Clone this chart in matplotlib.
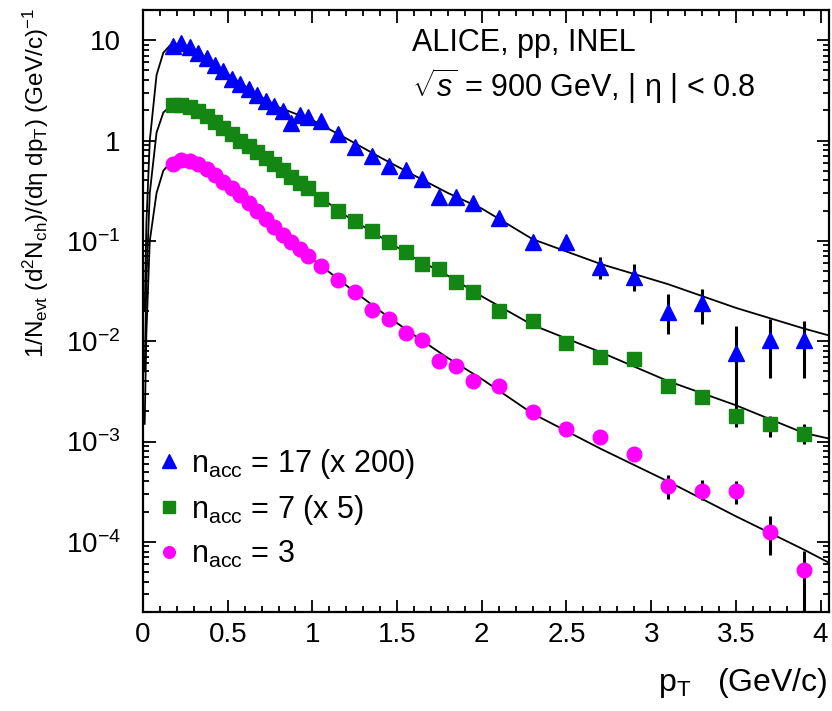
import matplotlib
matplotlib.use('Agg')
import matplotlib.pyplot as plt
from matplotlib.ticker import FixedLocator, NullFormatter, LogLocator

plt.rcParams['font.family'] = ['Liberation Sans', 'DejaVu Sans']
plt.rcParams['mathtext.fontset'] = 'custom'
plt.rcParams['mathtext.rm'] = 'Liberation Sans'
plt.rcParams['mathtext.it'] = 'Liberation Sans:italic'

# bin centres (GeV/c)
pt = [0.175, 0.225, 0.275, 0.325, 0.375, 0.425, 0.475, 0.525, 0.575, 0.625,
      0.675, 0.725, 0.775, 0.825, 0.875, 0.925, 0.975,
      1.05, 1.15, 1.25, 1.35, 1.45, 1.55, 1.65, 1.75, 1.85, 1.95,
      2.1, 2.3, 2.5, 2.7, 2.9, 3.1, 3.3, 3.5, 3.7, 3.9]

# n_acc = 17, scaled x 200
y17 = [8.8, 9.3, 8.5, 7.5, 6.7, 5.7, 4.9, 4.15, 3.7, 3.3,
       2.85, 2.5, 2.2, 1.95, 1.5, 1.8, 1.7,
       1.56, 1.16, 0.86, 0.70, 0.556, 0.507, 0.413, 0.273, 0.273, 0.24,
       0.17, 0.098, 0.098, 0.055, 0.044, 0.0195, 0.024, 0.0077, 0.0102, 0.0102]
# n_acc = 7, scaled x 5
y7 = [2.24, 2.24, 2.14, 1.95, 1.74, 1.52, 1.32, 1.15, 1.0, 0.88,
      0.76, 0.67, 0.58, 0.51, 0.43, 0.38, 0.335,
      0.262, 0.198, 0.158, 0.125, 0.098, 0.078, 0.059, 0.053, 0.039, 0.031,
      0.020, 0.0158, 0.0095, 0.0069, 0.0066, 0.0036, 0.0028, 0.0018, 0.0015, 0.0012]
# n_acc = 3
y3 = [0.58, 0.64, 0.62, 0.58, 0.52, 0.45, 0.39, 0.336, 0.286, 0.238,
      0.198, 0.165, 0.138, 0.115, 0.098, 0.083, 0.071,
      0.0567, 0.0412, 0.031, 0.0203, 0.0166, 0.012, 0.0102, 0.0063, 0.0057, 0.0040,
      0.0036, 0.00195, 0.00132, 0.0011, 0.00075, 0.00036, 0.00032, 0.00032, 0.000126, 5.3e-5]

# visible error bars (low / high edge)
err17_pt = [2.3, 2.7, 2.9, 3.1, 3.3, 3.5, 3.7, 3.9]
err17_lo = [0.088, 0.042, 0.032, 0.0118, 0.015, 0.0022, 0.0043, 0.0043]
err17_hi = [0.108, 0.069, 0.059, 0.0297, 0.033, 0.0141, 0.0166, 0.016]
err7_pt = [3.3, 3.5, 3.7, 3.9]
err7_lo = [0.0026, 0.0014, 0.0011, 0.00095]
err7_hi = [0.0030, 0.0023, 0.0018, 0.0015]
err3_pt = [3.1, 3.3, 3.5, 3.7, 3.9]
err3_lo = [0.00027, 0.00026, 0.00024, 7.4e-5, 1e-6]
err3_hi = [0.00046, 0.00041, 0.00040, 1.8e-4, 8.1e-5]

# fit curves
fit_pt = [0.01, 0.02, 0.04, 0.08, 0.12, 0.16, 0.2, 0.25, 0.3, 0.4, 0.5, 0.6, 0.7, 0.8, 0.9, 1.0,
          1.2, 1.4, 1.6, 1.8, 2.0, 2.3, 2.7, 3.1, 3.5, 3.9, 4.05]
fit17 = [0.02, 0.15, 1.0, 4.5, 7.5, 8.9, 9.2, 8.8, 8.1, 6.2, 4.6, 3.5, 2.7, 2.15, 1.85, 1.6,
         1.05, 0.68, 0.45, 0.30, 0.21, 0.104, 0.059, 0.037, 0.0215, 0.0134, 0.0114]
fit7 = [0.005, 0.04, 0.3, 1.2, 1.9, 2.2, 2.3, 2.2, 2.05, 1.62, 1.22, 0.94, 0.72, 0.55, 0.405, 0.31,
        0.177, 0.11, 0.068, 0.045, 0.028, 0.0145, 0.0078, 0.0040, 0.0023, 0.00122, 0.00107]
fit3 = [0.0015, 0.012, 0.1, 0.3, 0.5, 0.6, 0.64, 0.63, 0.6, 0.48, 0.36, 0.26, 0.18, 0.126, 0.09, 0.066,
        0.036, 0.020, 0.0115, 0.0068, 0.0042, 0.0019, 0.00085, 0.0004, 0.00018, 8.4e-5, 6.2e-5]

labels = [r'n$_{\rm acc}$ = 17 (x 200)', r'n$_{\rm acc}$ = 7 (x 5)', r'n$_{\rm acc}$ = 3']
colors = ['#0000ff', '#138613', '#ff00ff']

fig = plt.figure(figsize=(8.32, 7.11), dpi=100)
ax = fig.add_axes([143 / 832, 99 / 711, 686 / 832, 602 / 711])
ax.set_yscale('log')

for fy in (fit17, fit7, fit3):
    ax.plot(fit_pt, fy, color='black', lw=1.3, zorder=2)

for ex, lo, hi in ((err17_pt, err17_lo, err17_hi), (err7_pt, err7_lo, err7_hi),
                   (err3_pt, err3_lo, err3_hi)):
    ax.vlines(ex, lo, hi, color='black', lw=2.2, zorder=3)

h1, = ax.plot(pt, y17, '^', color=colors[0], ms=12, mec=colors[0], zorder=4)
h2, = ax.plot(pt, y7, 's', color=colors[1], ms=10, mec=colors[1], zorder=4)
h3, = ax.plot(pt, y3, 'o', color=colors[2], ms=10.5, mec=colors[2], zorder=4)

ax.set_xlim(0, 4.05)
ax.set_ylim(2e-5, 20)

ax.xaxis.set_major_locator(FixedLocator([0, 0.5, 1, 1.5, 2, 2.5, 3, 3.5, 4]))
ax.xaxis.set_minor_locator(FixedLocator([i * 0.1 for i in range(41)]))
ax.set_xticklabels(['0', '0.5', '1', '1.5', '2', '2.5', '3', '3.5', '4'])
ax.yaxis.set_major_locator(FixedLocator([1e-4, 1e-3, 1e-2, 1e-1, 1, 10]))
ax.set_yticklabels([r'10$^{-4}$', r'10$^{-3}$', r'10$^{-2}$', r'10$^{-1}$', '1', '10'])
ax.yaxis.set_minor_locator(LogLocator(base=10, subs=range(2, 10), numticks=20))
ax.yaxis.set_minor_formatter(NullFormatter())

ax.tick_params(which='both', direction='in', top=True, right=True, width=1.3)
ax.tick_params(which='major', length=9, labelsize=20)
ax.tick_params(which='minor', length=4.5)
ax.tick_params(axis='x', which='major', pad=7)
ax.tick_params(axis='y', which='major', pad=16)
for s in ax.spines.values():
    s.set_linewidth(1.6)

ax.text(0.392, 0.945, 'ALICE, pp, INEL', transform=ax.transAxes, fontsize=22,
        ha='left', va='center')
ax.text(0.392, 0.873, r'$\sqrt{s}$ = 900 GeV, | η | < 0.8', transform=ax.transAxes,
        fontsize=22, ha='left', va='center')

ax.legend([h1, h2, h3], labels, loc='upper left', bbox_to_anchor=(0.005, 0.295),
          frameon=False, fontsize=22, handlelength=0.7, handletextpad=0.35,
          labelspacing=0.4, borderaxespad=0, markerscale=0.8)

fig.text(36 / 832, 1 - 183 / 711,
         r'1/N$_{\rm evt}$ (d$^{2}$N$_{\rm ch}$)/(dη dp$_{\rm T}$) (GeV/c)$^{-1}$',
         rotation=90, ha='center', va='center', fontsize=17.5)
fig.text(828 / 832, 1 - 683 / 711, r'p$_{\rm T}$   (GeV/c)', ha='right', va='center',
         fontsize=23)

fig.savefig('out.png', dpi=100)
